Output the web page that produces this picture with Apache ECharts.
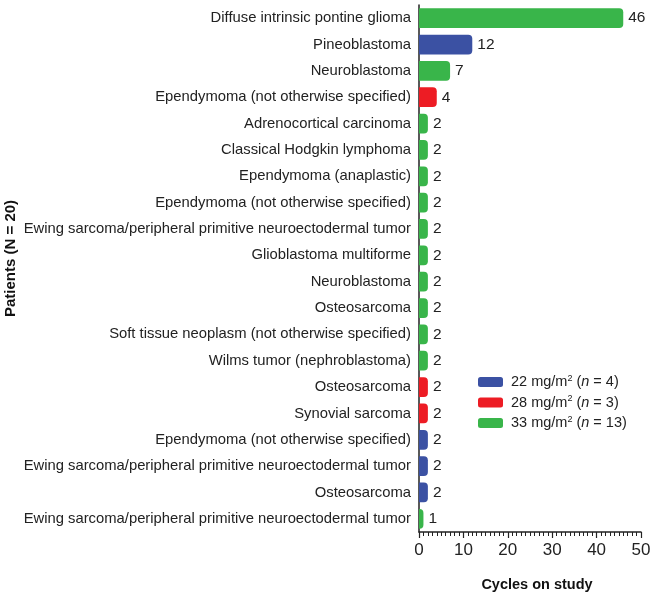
<!DOCTYPE html>
<html><head><meta charset="utf-8">
<script src="https://cdn.jsdelivr.net/npm/echarts@6/dist/echarts.min.js"></script>
<style>html,body{margin:0;padding:0;background:#fff}#c{width:650px;height:593px}</style>
</head><body><div id="c"></div>
<script>
const categories = [
  'Diffuse intrinsic pontine glioma','Pineoblastoma','Neuroblastoma','Ependymoma (not otherwise specified)',
  'Adrenocortical carcinoma','Classical Hodgkin lymphoma','Ependymoma (anaplastic)','Ependymoma (not otherwise specified)',
  'Ewing sarcoma/peripheral primitive neuroectodermal tumor','Glioblastoma multiforme','Neuroblastoma','Osteosarcoma',
  'Soft tissue neoplasm (not otherwise specified)','Wilms tumor (nephroblastoma)','Osteosarcoma','Synovial sarcoma',
  'Ependymoma (not otherwise specified)','Ewing sarcoma/peripheral primitive neuroectodermal tumor','Osteosarcoma',
  'Ewing sarcoma/peripheral primitive neuroectodermal tumor'
];
const cycles = [46,12,7,4,2,2,2,2,2,2,2,2,2,2,2,2,2,2,2,1];
const doseGroup = [33,22,33,28,33,33,33,33,33,33,33,33,33,33,28,28,22,22,22,33];
const groups = [
  {dose:22, n:4, color:'#3b51a3'},
  {dose:28, n:3, color:'#ed1c24'},
  {dose:33, n:13, color:'#39b54a'}
];
const FONT = 'Liberation Sans, Arial, sans-serif';
const chart = echarts.init(document.getElementById('c'));
const series = groups.map(g => ({
  name: g.dose + '',
  type: 'bar',
  barGap: '-100%',
  barCategoryGap: '25%',
  data: cycles.map((v,i) => doseGroup[i] === g.dose ? v : '-'),
  itemStyle: {color: g.color, borderRadius: [0,4,4,0]},
  label: {show: true, position: 'right', distance: 5, color: '#222', fontSize: 15.5, fontFamily: FONT}
}));
chart.setOption({
  animation: false,
  grid: {left: 419, right: 9, top: 5, bottom: 61, containLabel: false, outerBoundsMode: 'none'},
  legend: {
    orient: 'vertical', left: 478, top: 374, padding: 0, itemWidth: 25, itemHeight: 10, itemGap: 5,
    icon: 'roundRect',
    data: groups.map(g => g.dose + ''),
    formatter: name => {
      const g = groups.find(x => x.dose + '' === name);
      return '{a|' + g.dose + ' mg/m}{s|2}{a| (}{i|n}{a| = ' + g.n + ')}';
    },
    textStyle: {
      fontFamily: FONT, fontSize: 14.5, color: '#222', padding: [0,0,0,3],
      rich: {
        a: {fontSize: 14.5, fontFamily: FONT, color: '#222', lineHeight: 16},
        s: {fontSize: 9, fontFamily: FONT, color: '#222', verticalAlign: 'top', lineHeight: 16, padding:[0,0,6,0]},
        i: {fontSize: 14.5, fontFamily: FONT, color: '#222', fontStyle: 'italic', lineHeight: 16}
      }
    }
  },
  xAxis: {
    type: 'value', min: 0, max: 50, interval: 10,
    name: 'Cycles on study', nameLocation: 'middle', nameGap: 45, nameMoveOverlap: false,
    nameTextStyle: {fontFamily: FONT, fontSize: 14.5, fontWeight: 'bold', color: '#111', padding: [0,0,0,14]},
    axisLine: {show: true, lineStyle: {color: '#222', width: 1.5}},
    axisTick: {show: true, length: 6, lineStyle: {color: '#222', width: 1.2}},
    minorTick: {show: true, splitNumber: 10, length: 4, lineStyle: {color: '#222', width: 1}},
    splitLine: {show: false},
    axisLabel: {fontFamily: FONT, fontSize: 17, color: '#222', margin: 10}
  },
  yAxis: {
    type: 'category', inverse: true, data: categories,
    name: 'Patients (N = 20)', nameLocation: 'middle', nameGap: 401, nameRotate: 90, nameMoveOverlap: false,
    nameTextStyle: {fontFamily: FONT, fontSize: 15, fontWeight: 'bold', color: '#111', padding: [0,0,0,20]},
    axisLine: {show: true, lineStyle: {color: '#222', width: 1.5}},
    axisTick: {show: false},
    axisLabel: {fontFamily: FONT, fontSize: 14.8, color: '#222', margin: 8}
  },
  series: series
});
</script></body></html>
